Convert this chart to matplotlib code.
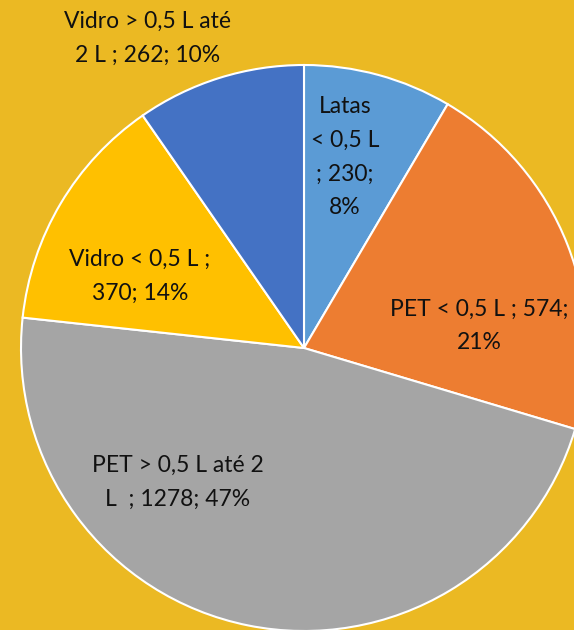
import matplotlib.pyplot as plt

# bottle types and counts
categories = ["Latas < 0,5 L", "PET < 0,5 L", "PET > 0,5 L até 2 L",
              "Vidro < 0,5 L", "Vidro > 0,5 L até 2 L"]
values = [230, 574, 1278, 370, 262]
colors = ["#5B9BD5", "#ED7D31", "#A5A5A5", "#FFC000", "#4472C4"]

# label text as wrapped on the chart
label_templates = [
    "Latas\n< 0,5 L\n; {v};\n{p}%",
    "PET < 0,5 L ; {v};\n{p}%",
    "PET > 0,5 L até 2\nL  ; {v}; {p}%",
    "Vidro < 0,5 L ;\n{v}; {p}%",
    "Vidro > 0,5 L até\n2 L ; {v}; {p}%",
]
label_pos = [(345, 157), (479, 326), (178, 482), (140, 276), (148, 38)]

bg = "#EBB923"
W, H = 574, 630

fig = plt.figure(figsize=(W / 100, H / 100), dpi=100, facecolor=bg)
ax = fig.add_axes([0, 0, 1, 1])
ax.set_facecolor(bg)

ax.pie(values, colors=colors, startangle=90, counterclock=False,
       center=(304, H - 348), radius=283,
       wedgeprops=dict(edgecolor="white", linewidth=1.5))

total = sum(values)
for tpl, v, (x, y) in zip(label_templates, values, label_pos):
    p = round(v / total * 100)
    ax.text(x, H - y, tpl.format(v=v, p=p), ha="center", va="center",
            fontsize=16.5, family="Lato", color="#111111", linespacing=1.75)

ax.set_xlim(0, W)
ax.set_ylim(0, H)
ax.set_aspect("equal")
ax.axis("off")

fig.savefig("out.png", dpi=100, facecolor=bg)
